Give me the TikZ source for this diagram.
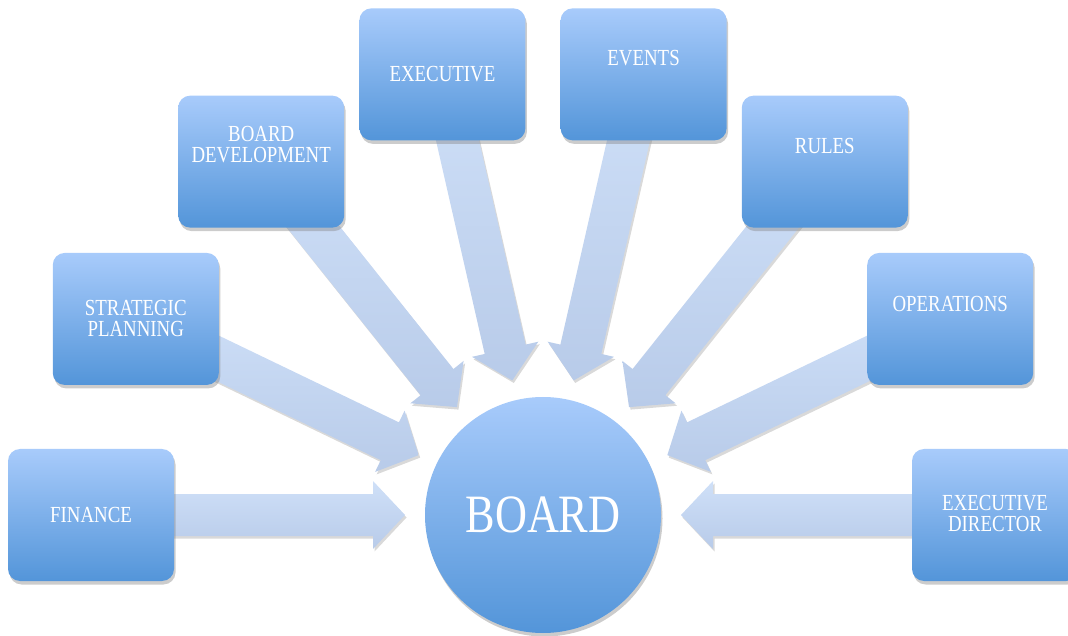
\documentclass[tikz,border=0pt]{standalone}
\usepackage{fontspec}
\setmainfont[FakeStretch=0.82]{Liberation Serif}
\usetikzlibrary{calc,shadows,backgrounds}

\definecolor{boxtop}{HTML}{A8CBFB}
\definecolor{boxbot}{HTML}{5395D9}
\definecolor{arrtop}{HTML}{CFE0F8}
\definecolor{arrbot}{HTML}{B8CBE9}

\tikzset{
  box/.style={rectangle, rounded corners=12pt, minimum width=166pt, minimum height=132pt,
    top color=boxtop, bottom color=boxbot,
    drop shadow={shadow xshift=1.5pt, shadow yshift=-3.5pt, opacity=0.4}},
  lbl/.style={text=white, align=center, inner sep=0pt, font=\fontsize{23}{21}\selectfont},
  blockarrow/.style={top color=arrtop, bottom color=arrbot,
    drop shadow={shadow xshift=1.5pt, shadow yshift=-2.5pt, opacity=0.3}}
}

\begin{document}
\begin{tikzpicture}[x=1pt,y=1pt]
\useasboundingbox (0,0) rectangle (1068,635);
\clip (0,0) rectangle (1068,635);

\node[circle, minimum size=236pt, top color=boxtop, bottom color=boxbot,
  drop shadow={shadow xshift=1.5pt, shadow yshift=-3.5pt, opacity=0.4},
  text=white, font=\fontsize{54}{60}\selectfont] (board) at (543,120) {BOARD}; % centre

\node[box] (fin)    at ($(board.center)+(180:452)$) {};    % left
\node[box] (strat)  at ($(board.center)+(154.29:452)$) {};
\node[box] (bdev)   at ($(board.center)+(128.57:452)$) {};
\node[box] (exec)   at ($(board.center)+(102.86:452)$) {};
\node[box] (events) at ($(board.center)+(77.14:452)$) {};
\node[box] (rules)  at ($(board.center)+(51.43:452)$) {};
\node[box] (ops)    at ($(board.center)+(25.71:452)$) {};
\node[box] (exdir)  at ($(board.center)+(0:452)$) {};      % right

\node[lbl] (fin-t)    at (fin.center) {FINANCE};
\node[lbl] (strat-t)  at (strat.center) {STRATEGIC\\PLANNING};
\node[lbl] (bdev-t)   at ([yshift=17pt]bdev.center) {BOARD\\DEVELOPMENT};
\node[lbl] (exec-t)   at (exec.center) {EXECUTIVE};
\node[lbl] (events-t) at ([yshift=16pt]events.center) {EVENTS};
\node[lbl] (rules-t)  at ([yshift=16pt]rules.center) {RULES};
\node[lbl] (ops-t)    at ([yshift=15pt]ops.center) {OPERATIONS};
\node[lbl] (exdir-t)  at ([yshift=2pt]exdir.center) {EXECUTIVE\\DIRECTOR};

% fat arrows into the board
\begin{scope}[on background layer]
\foreach \b in {fin,strat,bdev,exec,events,rules,ops,exdir}
  \path[blockarrow] ($(board.center)!138pt!(\b.center)$)
    -- ($(board.center)!170pt!(\b.center)!34pt!90:(\b.center)$)
    -- ($(board.center)!170pt!(\b.center)!21pt!90:(\b.center)$)
    -- ($(\b.center)!21pt!-90:(board.center)$)
    -- ($(\b.center)!21pt!90:(board.center)$)
    -- ($(board.center)!170pt!(\b.center)!21pt!-90:(\b.center)$)
    -- ($(board.center)!170pt!(\b.center)!34pt!-90:(\b.center)$)
    -- cycle;
\end{scope}

\end{tikzpicture}
\end{document}
